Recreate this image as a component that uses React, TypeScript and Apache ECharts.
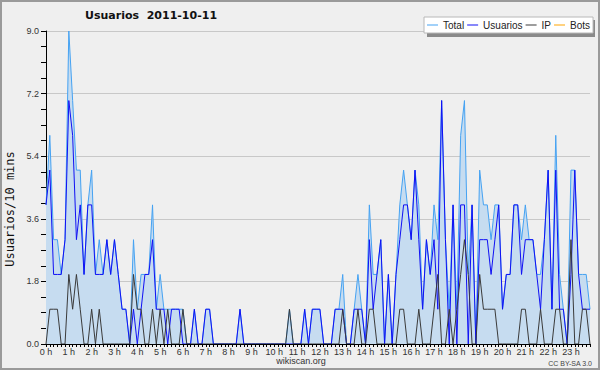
import React, { useEffect, useRef } from "react";
import * as echarts from "echarts";

const hourLabels = ["0 h","1 h","2 h","3 h","4 h","5 h","6 h","7 h","8 h","9 h","10 h","11 h","12 h","13 h","14 h","15 h","16 h","17 h","18 h","19 h","20 h","21 h","22 h","23 h"];
const slotMinutes = ["00","10","20","30","40","50"];
const yTicks = [0, 1.8, 3.6, 5.4, 7.2, 9.0];

const total = [
  4,6,3,3,2,3,9,7,5,5, 2,4,5,2,3,2,3,2,3,2, 1,1,0,3,1,2,2,2,4,1,
  2,1,1,1,1,1,1,0,0,1, 0,0,1,1,0,0,0,0,0,0, 0,1,0,0,0,0,0,0,0,0,
  0,0,0,0,1,0,0,0,1,0, 1,1,1,0,0,0,1,1,2,0, 0,1,2,1,0,4,2,2,3,0,
  2,0,2,4,5,4,3,5,4,1, 3,2,4,3,7,3,1,4,1,6, 7,2,4,0,5,4,4,3,4,4,
  1,2,2,4,4,3,4,3,3,2, 2,3,5,1,6,2,1,0,5,5, 2,2,2,1
];
const usuarios = [
  4,5,2,2,2,3,7,6,3,4, 2,4,4,2,2,2,3,2,3,2, 1,1,0,1,0,1,2,2,3,1,
  1,1,0,1,1,1,0,0,0,1, 0,0,1,1,0,0,0,0,0,0, 0,1,0,0,0,0,0,0,0,0,
  0,0,0,0,0,0,0,0,1,0, 1,1,1,0,0,0,1,1,1,0, 0,1,1,1,0,3,1,2,3,0,
  2,0,2,3,4,4,3,5,3,1, 3,2,3,1,7,3,0,4,0,4, 4,0,4,0,3,3,3,2,3,4,
  1,2,2,4,4,2,3,3,3,2, 1,3,5,1,5,1,1,0,2,5, 2,1,1,1
];
const ip = [
  0,1,1,1,0,0,2,1,2,1, 0,0,1,0,1,0,0,0,0,0, 0,0,0,2,1,1,0,0,1,0,
  1,0,1,0,0,0,1,0,0,0, 0,0,0,0,0,0,0,0,0,0, 0,0,0,0,0,0,0,0,0,0,
  0,0,0,0,1,0,0,0,0,0, 0,0,0,0,0,0,0,0,1,0, 0,0,1,0,0,1,1,0,0,0,
  0,0,0,1,1,0,0,0,1,0, 0,0,1,2,0,0,1,0,1,2, 3,2,0,0,2,1,1,1,1,0,
  0,0,0,0,0,1,1,0,0,0, 1,0,0,0,1,1,0,0,3,0, 0,1,1,0
];
const bots: number[] = [];

const categories = hourLabels.flatMap((_, h) => slotMinutes.map((m) => `${h}:${m}`));

const C_TOTAL = "#45a2f2";
const C_FILL = "#c6dcf0";
const C_USU = "#1010f4";
const C_IP = "#3a3a3a";
const C_BOTS = "#ffa500";

export default function App() {
  const ref = useRef<HTMLDivElement>(null);
  useEffect(() => {
    if (!ref.current) return;
    const chart = echarts.init(ref.current, null, { renderer: "svg" });
    const smallFont = "Liberation Sans";
    chart.setOption({
      animation: false,
      backgroundColor: "#efefef",
      title: {
        text: "Usuarios  2011-10-11",
        left: 85,
        top: 10,
        padding: 0,
        textStyle: { fontSize: 11, fontWeight: "bold", fontFamily: "DejaVu Sans", color: "#111" },
      },
      legend: {
        left: 424,
        top: 17,
        icon: "rect",
        itemWidth: 11,
        itemHeight: 1,
        itemGap: 3,
        padding: [3, 3, 3, 3],
        backgroundColor: "#ffffff",
        borderColor: "#b8b8b8",
        borderWidth: 1,
        z: 10,
        selectedMode: false,
        textStyle: { fontSize: 10, fontFamily: smallFont, color: "#222" },
        data: ["Total", "Usuarios", "IP", "Bots"],
      },
      grid: { left: 46, right: 10, top: 31, bottom: 26, outerBoundsMode: "none" },
      xAxis: {
        type: "category",
        data: categories,
        boundaryGap: false,
        z: 10,
        axisLine: { lineStyle: { color: "#000", width: 1 } },
        axisTick: { show: true, interval: 0, length: 3, lineStyle: { color: "#000" } },
        axisLabel: {
          interval: (index: number) => index % 6 === 0,
          formatter: (value: string) => {
            const [h, m] = value.split(":");
            return m === "00" ? hourLabels[parseInt(h, 10)] : "";
          },
          margin: 3,
          fontSize: 9,
          fontFamily: smallFont,
          color: "#333",
        },
        splitLine: { show: false },
      },
      yAxis: {
        type: "value",
        min: 0,
        max: yTicks[yTicks.length - 1],
        interval: yTicks[1],
        axisLine: { show: true, lineStyle: { color: "#000", width: 1 } },
        axisTick: { show: true, length: 5, lineStyle: { color: "#000" } },
        minorTick: { show: true, splitNumber: 4, length: 5, lineStyle: { color: "#000" } },
        axisLabel: {
          formatter: (v: number) => v.toFixed(1),
          margin: 7,
          fontSize: 9,
          fontFamily: smallFont,
          color: "#333",
        },
        splitLine: { show: true, lineStyle: { color: "#c8c8c8", width: 1 } },
      },
      series: [
        {
          name: "Total",
          type: "line",
          data: total,
          showSymbol: false,
          symbol: "none",
          itemStyle: { color: C_TOTAL },
          lineStyle: { color: C_TOTAL, width: 1 },
          areaStyle: { color: C_FILL, opacity: 1 },
          emphasis: { disabled: true },
          silent: true,
        },
        {
          name: "Usuarios",
          type: "line",
          data: usuarios,
          showSymbol: false,
          symbol: "none",
          itemStyle: { color: C_USU },
          lineStyle: { color: C_USU, width: 1 },
          emphasis: { disabled: true },
          silent: true,
        },
        {
          name: "IP",
          type: "line",
          data: ip,
          showSymbol: false,
          symbol: "none",
          itemStyle: { color: C_IP },
          lineStyle: { color: C_IP, width: 1 },
          emphasis: { disabled: true },
          silent: true,
        },
        {
          name: "Bots",
          type: "line",
          data: bots,
          showSymbol: false,
          symbol: "none",
          itemStyle: { color: C_BOTS },
          lineStyle: { color: C_BOTS, width: 1 },
          emphasis: { disabled: true },
          silent: true,
        },
      ],
      graphic: [
        {
          type: "rect",
          z: 0,
          silent: true,
          shape: { x: 1, y: 1, width: 598, height: 368 },
          style: { fill: "none", stroke: "#9a9a9a", lineWidth: 2 },
        },
        {
          type: "rect",
          z: 1,
          silent: true,
          shape: { x: 427, y: 20, width: 168, height: 17 },
          style: { fill: "#8a8a8a" },
        },
        {
          type: "text",
          silent: true,
          x: 10,
          y: 209,
          rotation: Math.PI / 2,
          style: {
            text: "Usuarios/10 mins",
            align: "center",
            verticalAlign: "middle",
            fontSize: 12,
            fontFamily: "DejaVu Sans Mono",
            fill: "#111",
          },
        },
        {
          type: "text",
          silent: true,
          x: 301,
          y: 361,
          style: {
            text: "wikiscan.org",
            align: "center",
            verticalAlign: "middle",
            fontSize: 9,
            fontFamily: smallFont,
            fill: "#333",
          },
        },
        {
          type: "text",
          silent: true,
          x: 592,
          y: 363,
          style: {
            text: "CC BY-SA 3.0",
            align: "right",
            verticalAlign: "middle",
            fontSize: 7,
            fontFamily: smallFont,
            fill: "#444",
          },
        },
      ],
    });
    return () => chart.dispose();
  }, []);
  return (
    <div
      ref={ref}
      style={{ position: "fixed", left: 0, top: 0, width: 600, height: 370 }}
    />
  );
}
